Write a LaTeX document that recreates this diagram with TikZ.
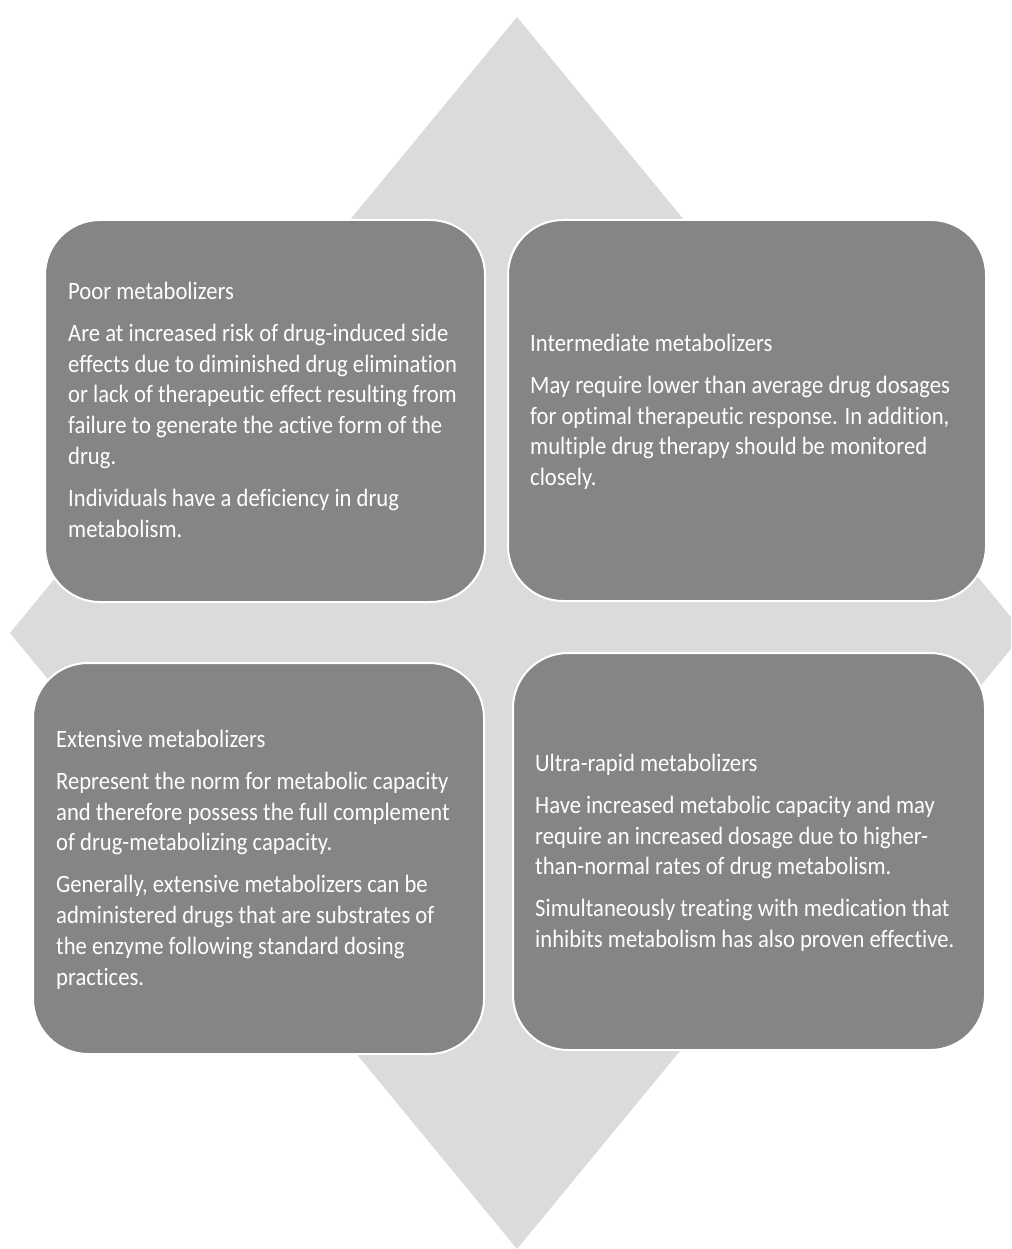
\documentclass[tikz,border=0pt]{standalone}
\usepackage{fontspec}
\setmainfont{Carlito}[FakeStretch=0.905, Ligatures={NoCommon}]
\definecolor{panelgray}{RGB}{133,133,133}
\definecolor{rhombgray}{RGB}{219,219,219}
\begin{document}
\begin{tikzpicture}[x=1pt,y=-1pt,
  panel/.style={fill=panelgray, draw=white, line width=2pt, rounded corners=55pt, inner sep=0pt},
  blurb/.style={anchor=north west, inner sep=0pt, align=left, text=white,
                font=\fontsize{25}{30.8}\selectfont}]
\useasboundingbox (0,0) rectangle (1011,1249);
\clip (0,0) rectangle (1011,1249);

% background rhomb
\fill[rhombgray] (517,17) -- (1024,633) -- (517,1249) -- (10,633) -- cycle;

% four panels
\node[panel, minimum width=440pt, minimum height=382pt] (poor)  at (265,411)   {};
\node[panel, minimum width=478pt, minimum height=381pt] (inter) at (747,410.5) {};
\node[panel, minimum width=451pt, minimum height=391pt] (ext)   at (258.5,858.5) {};
\node[panel, minimum width=472pt, minimum height=397pt] (ultra) at (749,851.5) {};

% panel texts
\node[blurb] (poortext) at (68,282) {Poor metabolizers\\[11pt]
Are at increased risk of drug-induced side\\
effects due to diminished drug elimination\\
or lack of therapeutic effect resulting from\\
failure to generate the active form of the\\
drug.\\[11pt]
Individuals have a deficiency in drug\\
metabolism.};

\node[blurb] (intertext) at (530,334) {Intermediate metabolizers\\[11pt]
May require lower than average drug dosages\\
for optimal therapeutic response. In addition,\\
multiple drug therapy should be monitored\\
closely.};

\node[blurb] (exttext) at (56,730) {Extensive metabolizers\\[11pt]
Represent the norm for metabolic capacity\\
and therefore possess the full complement\\
of drug-metabolizing capacity.\\[11pt]
Generally, extensive metabolizers can be\\
administered drugs that are substrates of\\
the enzyme following standard dosing\\
practices.};

\node[blurb] (ultratext) at (535,754) {Ultra-rapid metabolizers\\[11pt]
Have increased metabolic capacity and may\\
require an increased dosage due to higher-\\
than-normal rates of drug metabolism.\\[11pt]
Simultaneously treating with medication that\\
inhibits metabolism has also proven effective.};
\end{tikzpicture}
\end{document}
